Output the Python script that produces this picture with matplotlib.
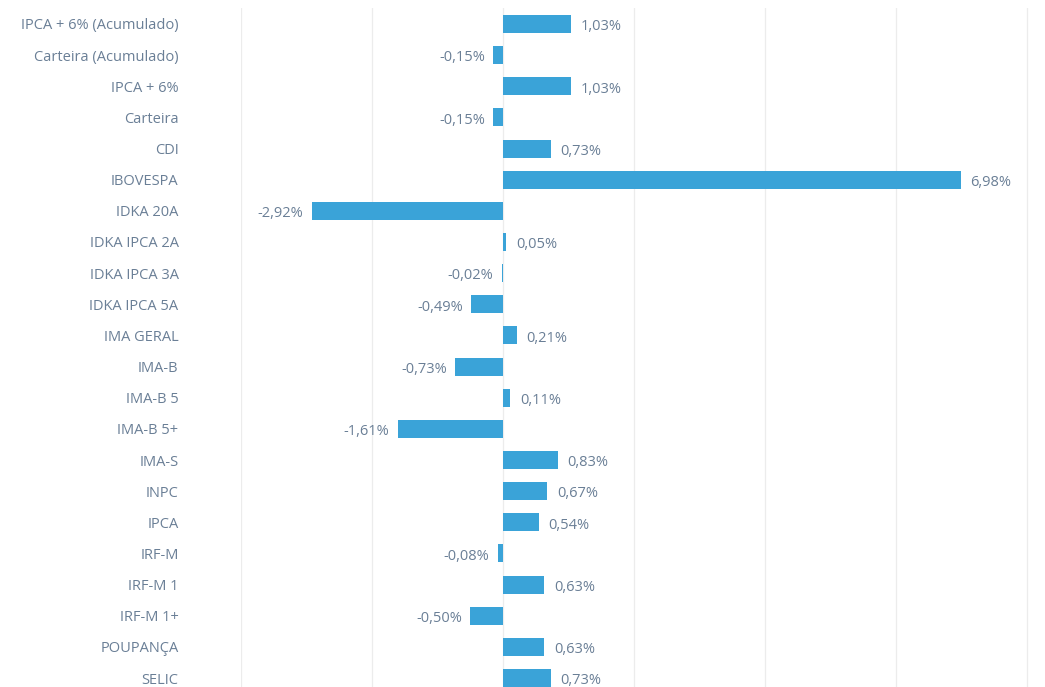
import matplotlib.pyplot as plt

categorias = ["IPCA + 6% (Acumulado)", "Carteira (Acumulado)", "IPCA + 6%", "Carteira",
              "CDI", "IBOVESPA", "IDKA 20A", "IDKA IPCA 2A", "IDKA IPCA 3A", "IDKA IPCA 5A",
              "IMA GERAL", "IMA-B", "IMA-B 5", "IMA-B 5+", "IMA-S", "INPC", "IPCA",
              "IRF-M", "IRF-M 1", "IRF-M 1+", "POUPANÇA", "SELIC"]
valores = [1.03, -0.15, 1.03, -0.15, 0.73, 6.98, -2.92, 0.05, -0.02, -0.49,
           0.21, -0.73, 0.11, -1.61, 0.83, 0.67, 0.54, -0.08, 0.63, -0.50, 0.63, 0.73]

cor_barra = "#3aa3d8"
cor_texto = "#6a7f96"

fig = plt.figure(figsize=(10.45, 6.87), dpi=100)
# eixo posicionado em pixels: x de -4 (241px) a 8 (1027px)
ax = fig.add_axes([241 / 1045, (687 - 693.6) / 687, (1030 - 241) / 1045, 685.2 / 687])

pos = list(range(len(categorias)))
ax.barh(pos, valores, height=0.58, color=cor_barra, zorder=3)

for y, v in zip(pos, valores):
    rotulo = f"{v:.2f}%".replace(".", ",")
    if v >= 0:
        ax.annotate(rotulo, (v, y), xytext=(7, -2), textcoords="offset points",
                    ha="left", va="center", fontsize=10.5, color=cor_texto, family="Open Sans")
    else:
        ax.annotate(rotulo, (v, y), xytext=(-6, -2), textcoords="offset points",
                    ha="right", va="center", fontsize=10.5, color=cor_texto, family="Open Sans")

ax.set_xlim(-4, 8.04)
ax.set_ylim(len(categorias) - 0.5, -0.5)
ax.set_xticks(range(-4, 9, 2))
ax.set_xticklabels([])
ax.set_yticks(pos)
ax.set_yticklabels(categorias, fontsize=10.5, color=cor_texto, family="Open Sans")
ax.tick_params(axis="both", length=0)
ax.tick_params(axis="y", pad=45)
ax.grid(axis="x", color="#ececec", linewidth=0.9, zorder=0)
for s in ax.spines.values():
    s.set_visible(False)

fig.savefig("out.png", dpi=100)
